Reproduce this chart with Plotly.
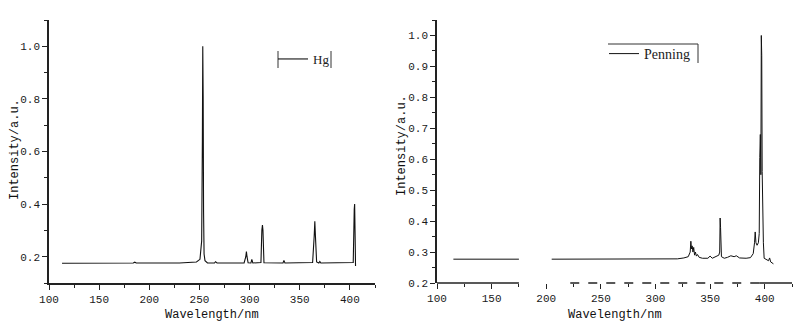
import plotly.graph_objects as go

# ---- data ----
hg_wavelength = [113, 150, 184, 185.5, 187, 230, 247, 250.5, 252.2, 252.9, 253.3, 253.7, 254.1, 254.6, 255.5, 258,
                 265, 266, 267.5, 294.5, 296.2, 296.8, 297.4, 298.5, 301.3, 302.2, 303.2, 311.3, 312.2, 312.8,
                 313.3, 314.3, 333.3, 334.2, 335.2, 362.8, 364.4, 365.0, 365.6, 366.8, 369, 370, 371, 403.3,
                 404.3, 404.7, 405.1, 405.6]
hg_intensity = [0.175, 0.175, 0.176, 0.179, 0.176, 0.176, 0.18, 0.19, 0.26, 0.64, 1.0, 0.81, 0.37, 0.21, 0.185, 0.176,
                0.176, 0.181, 0.176, 0.176, 0.2, 0.22, 0.2, 0.177, 0.176, 0.19, 0.176, 0.178, 0.3, 0.32,
                0.3, 0.177, 0.176, 0.186, 0.176, 0.178, 0.28, 0.335, 0.28, 0.18, 0.176, 0.182, 0.176, 0.178,
                0.38, 0.40, 0.3, 0.165]

pen_wavelength = [115, 150, 175, None, 205, 250, 300, 320, 326, 330, 331.8, 332.4, 333.0, 333.6, 334.3, 335.0,
                  335.8, 336.6, 337.5, 338.5, 340, 343, 348, 350, 352, 354, 356, 358, 358.8, 359.2, 359.6,
                  360.4, 363, 366, 369, 372, 374, 377, 383, 387, 389.5, 390.7, 391.3, 392, 393, 394.2, 395.0,
                  395.5, 396.0, 396.5, 396.9, 397.3, 397.7, 398.2, 398.8, 399.5, 401, 403.5, 404.5, 405.5,
                  408]
pen_intensity = [0.277, 0.277, 0.277, None, 0.277, 0.277, 0.277, 0.278, 0.281, 0.285, 0.30, 0.335, 0.31, 0.32,
                 0.30, 0.315, 0.29, 0.30, 0.287, 0.292, 0.283, 0.28, 0.28, 0.287, 0.28, 0.283, 0.285, 0.29,
                 0.30, 0.41, 0.38, 0.285, 0.28, 0.283, 0.288, 0.285, 0.288, 0.281, 0.28, 0.282, 0.295, 0.33,
                 0.365, 0.33, 0.322, 0.33, 0.36, 0.605, 0.68, 0.55, 1.0, 0.935, 0.56, 0.34, 0.33, 0.28, 0.276,
                 0.272, 0.281, 0.268, 0.262]

x_ticks = [100, 150, 200, 250, 300, 350, 400]
left_y_ticks = [0.2, 0.4, 0.6, 0.8, 1.0]
right_y_ticks = [0.2, 0.3, 0.4, 0.5, 0.6, 0.7, 0.8, 0.9, 1.0]

W, H = 800, 331
def px(x):
    return x / W
def py(y):
    return 1 - y / H

TICKFONT = dict(family="Liberation Mono", size=11, color="#1a1a1a")
TITLEFONT = dict(family="Liberation Mono", size=12, color="#111")
LEGFONT = dict(family="Liberation Serif", size=13, color="#222")
LEGFONT2 = dict(family="Liberation Serif", size=14, color="#222")

fig = go.Figure()
fig.add_trace(go.Scatter(x=hg_wavelength, y=hg_intensity, mode="lines", name="Hg",
                         line=dict(color="#111", width=1.1), xaxis="x", yaxis="y", legend="legend"))
fig.add_trace(go.Scatter(x=pen_wavelength, y=pen_intensity, mode="lines", name="Penning",
                         line=dict(color="#111", width=1.0), xaxis="x2", yaxis="y2", legend="legend2",
                         connectgaps=False))

axis_common = dict(showgrid=False, zeroline=False, ticks="outside", ticklen=5, tickwidth=1.2,
                   tickcolor="#222", linecolor="#222", linewidth=1.5, tickfont=TICKFONT,
                   automargin=False)

fig.update_layout(
    template="none",
    width=W, height=H, margin=dict(l=0, r=0, t=0, b=0, pad=0), autosize=False,
    paper_bgcolor="white", plot_bgcolor="white",
    xaxis=dict(domain=[px(49), px(375)], range=[100, 425], tickvals=x_ticks, showline=True,
               minor=dict(dtick=25, ticks="outside", ticklen=3, tickcolor="#222"),
               anchor="y", **axis_common),
    yaxis=dict(domain=[py(283), py(20)], range=[0.1, 1.1], tickvals=left_y_ticks, tickformat=".1f",
               showline=True, minor=dict(dtick=0.1, tick0=0.1, ticks="outside", ticklen=3, tickcolor="#222"),
               anchor="x", **axis_common),
    xaxis2=dict(domain=[px(437), px(792)], range=[100, 425], tickvals=x_ticks, showline=False,
                minor=dict(dtick=25, ticks="outside", ticklen=3, tickcolor="#222"),
                anchor="y2", **axis_common),
    yaxis2=dict(domain=[py(283), py(20)], range=[0.2, 1.05], tickvals=right_y_ticks, tickformat=".1f",
                showline=True, minor=dict(dtick=0.05, tick0=0.2, ticks="outside", ticklen=3, tickcolor="#222"),
                anchor="x2", **axis_common),
    legend=dict(x=px(273), y=py(44), xanchor="left", yanchor="top", bgcolor="rgba(0,0,0,0)",
                font=LEGFONT, borderwidth=0),
    legend2=dict(x=px(604), y=py(38), xanchor="left", yanchor="top", bgcolor="rgba(0,0,0,0)",
                 font=LEGFONT2, borderwidth=0),
    showlegend=True,
)

annotations = [
    dict(text="Intensity/a.u.", x=px(15), y=py(150), xref="paper", yref="paper", textangle=-90,
         xanchor="center", yanchor="middle", showarrow=False, font=TITLEFONT),
    dict(text="Intensity/a.u.", x=px(402), y=py(145), xref="paper", yref="paper", textangle=-90,
         xanchor="center", yanchor="middle", showarrow=False, font=TITLEFONT),
    dict(text="Wavelength/nm", x=px(212), y=py(315), xref="paper", yref="paper",
         xanchor="center", yanchor="middle", showarrow=False, font=TITLEFONT),
    dict(text="Wavelength/nm", x=px(615), y=py(315), xref="paper", yref="paper",
         xanchor="center", yanchor="middle", showarrow=False, font=TITLEFONT),
]
fig.update_layout(annotations=annotations)

shapes = [
    # partial legend frames
    dict(type="line", xref="paper", yref="paper", x0=px(278), x1=px(278), y0=py(51), y1=py(68),
         line=dict(color="#333", width=1)),
    dict(type="line", xref="paper", yref="paper", x0=px(331), x1=px(331), y0=py(51), y1=py(68),
         line=dict(color="#333", width=1)),
    dict(type="line", xref="paper", yref="paper", x0=px(608), x1=px(698), y0=py(44), y1=py(44),
         line=dict(color="#333", width=1)),
    dict(type="line", xref="paper", yref="paper", x0=px(698), x1=px(698), y0=py(44), y1=py(63),
         line=dict(color="#333", width=1)),
    # right x axis line (broken in the original scan)
    dict(type="line", xref="x2", yref="y2 domain", x0=100, x1=175, y0=0, y1=0,
         line=dict(color="#222", width=1.5)),
    dict(type="line", xref="x2", yref="y2 domain", x0=222, x1=395, y0=0, y1=0,
         line=dict(color="#222", width=1.5, dash="dash")),
    dict(type="line", xref="x2", yref="y2 domain", x0=395, x1=425, y0=0, y1=0,
         line=dict(color="#222", width=1.5)),
]
fig.update_layout(shapes=shapes)

fig.write_html("out.html", config={"displayModeBar": False},
               post_script="document.body.style.margin='0';document.body.style.overflow='hidden';")
